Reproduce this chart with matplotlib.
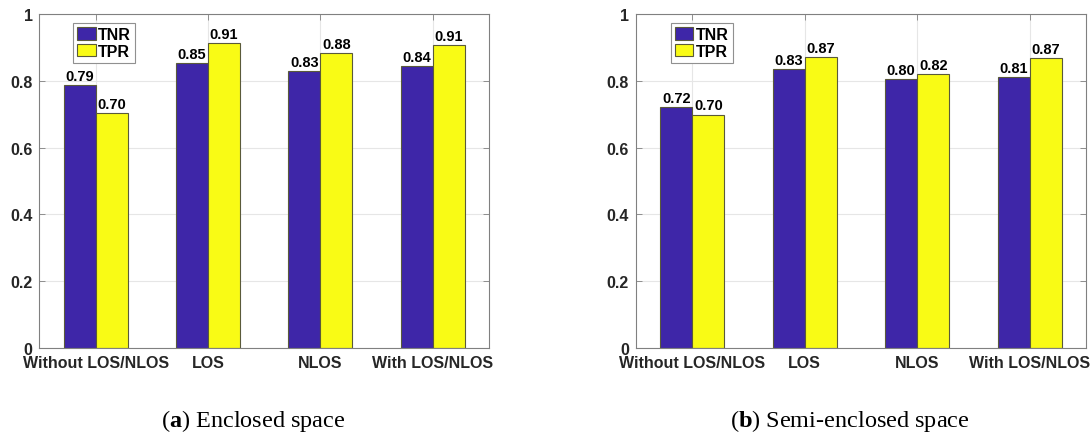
import numpy as np
import matplotlib
matplotlib.use('Agg')
import matplotlib.pyplot as plt

# data
categories = ['Without LOS/NLOS', 'LOS', 'NLOS', 'With LOS/NLOS']
tnr_a = [0.787, 0.853, 0.828, 0.843]
tpr_a = [0.703, 0.912, 0.882, 0.908]
tnr_b = [0.722, 0.834, 0.804, 0.811]
tpr_b = [0.699, 0.872, 0.821, 0.867]
yticks = [0, 0.2, 0.4, 0.6, 0.8, 1]
ytick_labels = ['0', '0.2', '0.4', '0.6', '0.8', '1']
captions = [r'($\mathbf{a}$) Enclosed space', r'($\mathbf{b}$) Semi-enclosed space']

plt.rcParams['font.family'] = ['Liberation Sans', 'DejaVu Sans']
plt.rcParams['mathtext.fontset'] = 'custom'
plt.rcParams['mathtext.rm'] = 'Liberation Serif'
plt.rcParams['mathtext.bf'] = 'Liberation Serif:bold'

c_tnr = '#3E26A8'
c_tpr = '#F9FB15'
edge = '#5a5a3a'
spine = '#808080'

fig = plt.figure(figsize=(10.9, 4.35), dpi=100)
ax_a = fig.add_axes([0.0362, 0.1977, 0.4124, 0.7678])
ax_b = fig.add_axes([0.5835, 0.1977, 0.4128, 0.7678])

x = np.arange(1, len(categories) + 1)
w = 0.285

for ax, tnr, tpr, leg_x in [(ax_a, tnr_a, tpr_a, 0.075), (ax_b, tnr_b, tpr_b, 0.078)]:
    ax.set_axisbelow(True)
    ax.grid(True, color='#e6e6e6', linewidth=0.8)
    b1 = ax.bar(x - w / 2, tnr, w, color=c_tnr, edgecolor=edge, linewidth=0.8, label='TNR')
    b2 = ax.bar(x + w / 2, tpr, w, color=c_tpr, edgecolor=edge, linewidth=0.8, label='TPR')
    ax.bar_label(b1, fmt='%.2f', padding=1.5, fontsize=10.5, fontweight='bold')
    ax.bar_label(b2, fmt='%.2f', padding=1.5, fontsize=10.5, fontweight='bold')
    ax.set_xlim(0.5, 4.5)
    ax.set_ylim(0, 1)
    ax.set_xticks(x)
    ax.set_xticklabels(categories, fontsize=11.5, fontweight='bold', color='#262626')
    ax.set_yticks(yticks)
    ax.set_yticklabels(ytick_labels, fontsize=11.5, fontweight='bold', color='#262626')
    ax.tick_params(direction='in', length=4, width=0.6, color=spine,
                   top=True, right=True, pad=5)
    for s in ax.spines.values():
        s.set_color(spine)
        s.set_linewidth(0.8)
    leg = ax.legend(loc='upper left', bbox_to_anchor=(leg_x, 0.973),
                    prop={'weight': 'bold', 'size': 11.5},
                    fancybox=False, edgecolor='#909090', framealpha=1,
                    handlelength=1.15, handleheight=0.8, handletextpad=0.15,
                    labelspacing=0.12, borderpad=0.25, borderaxespad=0)
    leg.get_frame().set_linewidth(0.8)

fig.text(0.232, 0.032, captions[0], fontsize=17.5, ha='center', va='center',
         family='Liberation Serif')
fig.text(0.78, 0.032, captions[1], fontsize=17.5, ha='center', va='center',
         family='Liberation Serif')

fig.savefig('out.png', dpi=100)
